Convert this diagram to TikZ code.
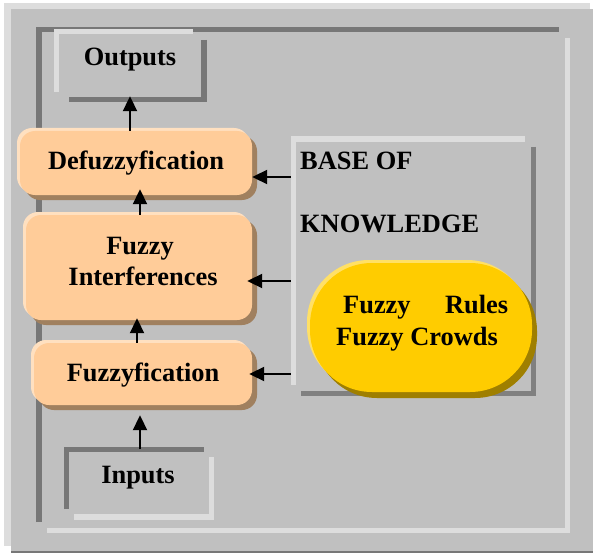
\documentclass[tikz,border=0pt]{standalone}
\usepackage{fontspec}
\setmainfont{Liberation Serif}
\usetikzlibrary{arrows.meta,shadows,calc}
\definecolor{bggray}{HTML}{C0C0C0}
\definecolor{lightln}{HTML}{DDDDDD}
\definecolor{darkln}{HTML}{777777}
\definecolor{kbdark}{HTML}{808080}
\definecolor{orbody}{HTML}{FFCC99}
\definecolor{orhi}{HTML}{FFE0C0}
\definecolor{orsh}{HTML}{A0805F}
\definecolor{ybody}{HTML}{FFCC00}
\definecolor{yhi}{HTML}{FFE066}
\definecolor{ysh}{HTML}{9F7F00}
\begin{document}
\begin{tikzpicture}[x=1pt,y=-1pt,
  lt/.style={draw=lightln, line width=5.5pt, line join=miter},
  dk/.style={draw=darkln, line width=5.5pt, line join=miter},
  kbd/.style={draw=kbdark, line width=5.5pt, line join=miter},
  framebox/.style={rectangle, draw=none, inner sep=0pt},
  obox/.style={rectangle, rounded corners=15pt, fill=orbody, draw=none, inner sep=0pt,
    general shadow={fill=orhi, shadow xshift=-3pt, shadow yshift=3pt},
    general shadow={fill=orsh, shadow xshift=5pt, shadow yshift=-5pt}},
  ybox/.style={rectangle, rounded corners=62pt, fill=ybody, draw=none, inner sep=0pt,
    general shadow={fill=yhi, shadow xshift=-3pt, shadow yshift=3pt},
    general shadow={fill=ysh, shadow xshift=5pt, shadow yshift=-6pt}},
  txt/.style={font=\fontsize{26.4pt}{31pt}\selectfont\bfseries, inner sep=0pt, anchor=base},
  arr/.style={draw=black, line width=2pt, -{Triangle[length=15pt,width=14pt]}}
]
\useasboundingbox (0,0) rectangle (593,553);
% background
\fill[white] (0,0) rectangle (593,553);
\fill[lightln] (4,3) rectangle (590,546);
\fill[bggray] (11,9) rectangle (593,551);
\fill[darkln] (11,551) rectangle (593,553);
% outer frame
\draw[dk] (38.75,522) -- (38.75,29.75) -- (559,29.75);
\draw[lt] (567.5,38) -- (567.5,530.5) -- (47,530.5);
% frame boxes (invisible nodes)
\node[framebox, minimum width=147.5pt, minimum height=68pt] (outbox) at (130.25,65.5) {};
\node[framebox, minimum width=145pt, minimum height=67.5pt] (inbox) at (139,483.25) {};
\node[framebox, minimum width=240pt, minimum height=254.5pt] (kb) at (413.5,266.25) {};
% outputs box lines
\draw[dk] ($(outbox.north east)+(0,8.5)$) -- (outbox.south east) -- ($(outbox.south west)+(12.5,0)$);
\draw[lt] ($(outbox.south west)+(0,-7.5)$) -- (outbox.north west) -- ($(outbox.north east)+(-11,0)$);
% inputs box lines
\draw[lt] ($(inbox.north east)+(0,7.5)$) -- (inbox.south east) -- ($(inbox.south west)+(7.5,0)$);
\draw[dk] ($(inbox.south west)+(0,-8)$) -- (inbox.north west) -- ($(inbox.north east)+(-7.5,0)$);
% knowledge base lines
\draw[kbd] ($(kb.north east)+(0,8)$) -- (kb.south east) -- ($(kb.south west)+(7.5,0)$);
\draw[lt] ($(kb.south west)+(0,-8.5)$) -- (kb.north west) -- ($(kb.north east)+(-8.5,0)$);
% process boxes
\node[obox, minimum width=232pt, minimum height=64pt] (defz) at (136,163) {};
\node[obox, minimum width=226pt, minimum height=105pt] (interf) at (139,267.5) {};
\node[obox, minimum width=218pt, minimum height=62pt] (fuzz) at (143,374) {};
\node[ybox, minimum width=222pt, minimum height=129pt] (rules) at (421,327.5) {};
% texts
\node[txt] (outtxt) at (130,66) {Outputs};
\node[txt] (intxt) at (138,483) {Inputs};
\node[txt] (deftxt) at (136,170) {Defuzzyfication};
\node[txt] (iftxt) at (140,254) {Fuzzy};
\node[txt] (iitxt) at (143,285) {Interferences};
\node[txt] (fztxt) at (143,381) {Fuzzyfication};
\node[txt, anchor=base west] (kb1) at (300,170) {BASE OF};
\node[txt, anchor=base west] (kb2) at (300,232) {KNOWLEDGE};
\node[txt, anchor=base west] (r1) at (343,313) {\makebox[165pt][s]{Fuzzy Rules}};
\node[txt, anchor=base west] (r2) at (336,345) {Fuzzy Crowds};
% connectors
\draw[arr, shorten >=-3.5pt] (defz.north -| outtxt) -- (outbox.south -| outtxt);
\coordinate (c2) at ([xshift=1pt]interf.north);
\draw[arr, shorten >=-6pt] (c2) -- (defz.south -| c2);
\coordinate (c3) at ([xshift=-2pt]interf.south);
\draw[arr, shorten >=-2pt] (fuzz.north -| c3) -- (c3);
\coordinate (c4) at ([xshift=-3pt]fuzz.south);
\draw[arr, shorten >=10pt] (inbox.north -| c4) -- (c4);
\coordinate (h1) at ([yshift=-14pt]defz.east);
\draw[arr, shorten <=2.5pt] (kb.west |- h1) -- (h1);
\coordinate (h2) at ([yshift=-13.5pt]interf.east);
\draw[arr, shorten <=2.5pt, shorten >=-5pt] (kb.west |- h2) -- (h2);
\coordinate (h3) at (fuzz.east);
\draw[arr, shorten <=2.5pt, shorten >=-3pt] (kb.west |- h3) -- (h3);
\end{tikzpicture}
\end{document}
